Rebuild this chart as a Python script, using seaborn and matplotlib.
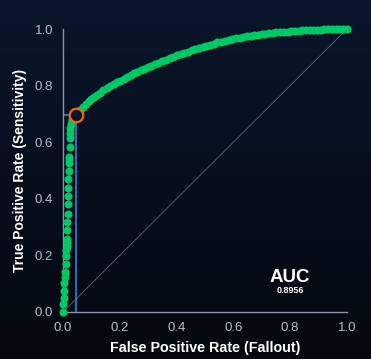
import numpy as np
import pandas as pd
import matplotlib
matplotlib.use("Agg")
import matplotlib.pyplot as plt
from matplotlib.colors import LinearSegmentedColormap
import seaborn as sns

# ROC curve points (false positive rate, true positive rate)
fpr = [0.000, 0.001, 0.003, 0.003, 0.005, 0.007, 0.008, 0.009, 0.011, 0.012,
       0.013, 0.013, 0.014, 0.014, 0.015, 0.016, 0.017, 0.017, 0.018, 0.019,
       0.020, 0.021, 0.021, 0.022, 0.023, 0.024, 0.024, 0.025, 0.027, 0.030,
       0.036, 0.046,
       0.052, 0.060, 0.070, 0.080, 0.090, 0.100, 0.110, 0.120, 0.130, 0.142,
       0.154, 0.166, 0.178, 0.190, 0.202, 0.214, 0.226, 0.238, 0.250, 0.262,
       0.274, 0.286, 0.298, 0.310, 0.323, 0.336, 0.349, 0.362, 0.375, 0.388,
       0.401, 0.414, 0.427, 0.440, 0.453, 0.466, 0.479, 0.492, 0.505, 0.518,
       0.531, 0.544, 0.557, 0.570, 0.583, 0.596, 0.609, 0.622, 0.635, 0.648,
       0.661, 0.674, 0.687, 0.700, 0.713, 0.726, 0.739, 0.752, 0.765, 0.778,
       0.791, 0.804, 0.817, 0.830, 0.843, 0.856, 0.869, 0.882, 0.895, 0.908,
       0.921, 0.934, 0.947, 0.960, 0.973, 0.986, 1.000]
tpr = [0.000, 0.027, 0.050, 0.075, 0.101, 0.123, 0.142, 0.170, 0.198, 0.219,
       0.231, 0.243, 0.257, 0.290, 0.317, 0.346, 0.382, 0.410, 0.439, 0.470,
       0.497, 0.525, 0.537, 0.549, 0.584, 0.614, 0.631, 0.649, 0.664, 0.678,
       0.690, 0.695,
       0.703, 0.714, 0.725, 0.735, 0.745, 0.753, 0.761, 0.768, 0.775, 0.783,
       0.790, 0.798, 0.805, 0.812, 0.818, 0.825, 0.831, 0.837, 0.843, 0.849,
       0.854, 0.860, 0.865, 0.870, 0.876, 0.881, 0.887, 0.892, 0.897, 0.902,
       0.907, 0.911, 0.916, 0.920, 0.925, 0.929, 0.933, 0.937, 0.941, 0.945,
       0.949, 0.953, 0.956, 0.959, 0.962, 0.965, 0.968, 0.970, 0.972, 0.974,
       0.976, 0.978, 0.980, 0.982, 0.984, 0.985, 0.987, 0.988, 0.989, 0.990,
       0.991, 0.992, 0.993, 0.994, 0.995, 0.996, 0.996, 0.997, 0.998, 0.998,
       0.999, 0.999, 0.999, 1.000, 1.000, 1.000, 1.000]

# chosen operating point
thr_fpr = 0.046
thr_tpr = 0.695
auc_value = 0.8956

ticks = [0.0, 0.2, 0.4, 0.6, 0.8, 1.0]
tick_labels = ["0.0", "0.2", "0.4", "0.6", "0.8", "1.0"]

df = pd.DataFrame({"fpr": fpr, "tpr": tpr})

sns.set_style("dark")
plt.rcParams["font.family"] = ["Liberation Sans", "DejaVu Sans"]

fig = plt.figure(figsize=(3.71, 3.59), dpi=100)

# fondo degradado
bg = fig.add_axes([0, 0, 1, 1], zorder=-10)
grad = LinearSegmentedColormap.from_list("bg", ["#0a162b", "#04080f"])
bg.imshow(np.linspace(0, 1, 256).reshape(-1, 1), aspect="auto", cmap=grad,
          extent=[0, 1, 0, 1])
bg.axis("off")

ax = fig.add_axes([0.170, 0.131, 0.765, 0.788])
ax.set_facecolor("none")

spine_col = "#8796ab"
# diagonal reference
ax.plot([0, 1], [0, 1], color="#5f6878", lw=0.6, zorder=1)
# operating point guides
ax.plot([thr_fpr, thr_fpr], [0, thr_tpr], color="#2b8ff0", lw=1.1, zorder=2)
ax.plot([0, thr_fpr], [thr_tpr, thr_tpr], color="#2b8ff0", lw=1.1, zorder=2)

sns.scatterplot(data=df, x="fpr", y="tpr", ax=ax, color="#00c864", s=34,
                linewidth=0, zorder=3, clip_on=False, legend=False)

ax.scatter([thr_fpr], [thr_tpr], s=95, facecolor="#0a1529",
           edgecolor="#f0690f", linewidth=1.6, zorder=5, clip_on=False)

ax.text(0.80, 0.122, "AUC", color="white", fontsize=13.5, fontweight="bold",
        ha="center", va="center")
ax.text(0.80, 0.075, f"{auc_value:.4f}", color="white", fontsize=6.5,
        fontweight="bold", ha="center", va="center")

ax.set_xlim(0, 1)
ax.set_ylim(0, 1)
ax.set_xticks(ticks)
ax.set_xticklabels(tick_labels)
ax.set_yticks(ticks)
ax.set_yticklabels(tick_labels)
ax.grid(False)
for s in ["top", "right"]:
    ax.spines[s].set_visible(False)
for s in ["left", "bottom"]:
    ax.spines[s].set_color(spine_col)
    ax.spines[s].set_linewidth(1.0)
ax.tick_params(colors=spine_col, length=4, width=0.9, labelsize=9.5,
               labelcolor="#b9bfc9", pad=3)

ax.set_xlabel("False Positive Rate (Fallout)", color="white", fontsize=10.3,
              fontweight="bold", labelpad=5)
ax.set_ylabel("True Positive Rate (Sensitivity)", color="white", fontsize=10,
              fontweight="bold", labelpad=6)

fig.savefig("out.png", dpi=100)
